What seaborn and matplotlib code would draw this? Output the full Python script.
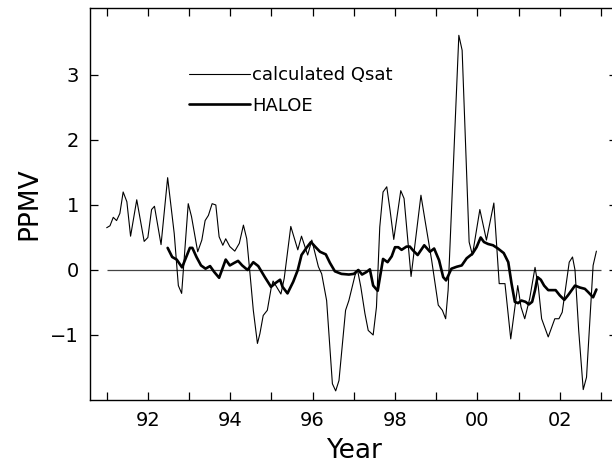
import matplotlib
matplotlib.use("Agg")
import matplotlib.pyplot as plt
import seaborn as sns
import pandas as pd

# ---- data ----
qsat_year = [1991.00, 1991.08, 1991.16, 1991.24, 1991.32, 1991.40, 1991.49, 1991.58, 1991.73, 1991.91,
             1992.00, 1992.09, 1992.16, 1992.32, 1992.48, 1992.64, 1992.74, 1992.82, 1992.98, 1993.06,
             1993.21, 1993.31, 1993.39, 1993.47, 1993.56, 1993.65, 1993.73, 1993.82, 1993.89, 1993.99,
             1994.11, 1994.22, 1994.32, 1994.40, 1994.48, 1994.56, 1994.66, 1994.72, 1994.80, 1994.90,
             1994.99, 1995.04, 1995.23, 1995.31, 1995.47, 1995.64, 1995.73, 1995.88, 1995.98, 1996.14,
             1996.22, 1996.34, 1996.48, 1996.56, 1996.64, 1996.80, 1996.88, 1997.03, 1997.09, 1997.17,
             1997.27, 1997.35, 1997.47, 1997.55, 1997.63, 1997.71, 1997.80, 1997.88, 1997.97, 1998.14,
             1998.22, 1998.39, 1998.63, 1998.73, 1998.89, 1999.05, 1999.15, 1999.23, 1999.29, 1999.55,
             1999.63, 1999.80, 1999.88, 2000.06, 2000.22, 2000.40, 2000.53, 2000.67, 2000.81, 2000.98,
             2001.06, 2001.15, 2001.27, 2001.40, 2001.48, 2001.56, 2001.72, 2001.88, 2001.98, 2002.06,
             2002.23, 2002.31, 2002.37, 2002.46, 2002.57, 2002.65, 2002.81, 2002.89]
qsat_ppmv = [0.65, 0.68, 0.81, 0.76, 0.87, 1.20, 1.05, 0.52, 1.08, 0.44,
             0.50, 0.93, 0.98, 0.39, 1.42, 0.56, -0.24, -0.36, 1.02, 0.82,
             0.28, 0.46, 0.76, 0.84, 1.02, 1.00, 0.51, 0.38, 0.48, 0.36,
             0.29, 0.41, 0.69, 0.48, -0.06, -0.62, -1.13, -0.98, -0.70, -0.62,
             -0.29, -0.17, -0.37, -0.13, 0.67, 0.31, 0.52, 0.23, 0.46, 0.05,
             -0.06, -0.47, -1.75, -1.86, -1.70, -0.62, -0.47, -0.08, 0.00, -0.26,
             -0.67, -0.93, -1.00, -0.57, 0.66, 1.20, 1.28, 0.92, 0.47, 1.22,
             1.10, -0.10, 1.15, 0.76, 0.15, -0.54, -0.62, -0.75, -0.31, 3.61,
             3.38, 0.43, 0.23, 0.93, 0.46, 1.03, -0.21, -0.21, -1.06, -0.24,
             -0.57, -0.75, -0.44, 0.04, -0.26, -0.75, -1.03, -0.75, -0.75, -0.65,
             0.12, 0.20, 0.00, -0.93, -1.84, -1.65, 0.07, 0.29]

haloe_year = [1992.48, 1992.59, 1992.70, 1992.83, 1993.02, 1993.08, 1993.18, 1993.29, 1993.40, 1993.51,
              1993.61, 1993.73, 1993.89, 1993.99, 1994.10, 1994.19, 1994.29, 1994.42, 1994.56, 1994.68,
              1994.84, 1994.99, 1995.10, 1995.21, 1995.27, 1995.39, 1995.53, 1995.64, 1995.73, 1995.85,
              1995.96, 1996.06, 1996.18, 1996.32, 1996.42, 1996.54, 1996.70, 1996.88, 1997.00, 1997.11,
              1997.20, 1997.31, 1997.39, 1997.47, 1997.58, 1997.71, 1997.82, 1997.92, 1998.00, 1998.08,
              1998.16, 1998.28, 1998.36, 1998.44, 1998.55, 1998.71, 1998.85, 1998.95, 1999.07, 1999.17,
              1999.24, 1999.37, 1999.50, 1999.62, 1999.74, 1999.88, 1999.98, 2000.08, 2000.16, 2000.26,
              2000.38, 2000.50, 2000.64, 2000.75, 2000.83, 2000.91, 2000.99, 2001.07, 2001.17, 2001.25,
              2001.33, 2001.40, 2001.46, 2001.54, 2001.62, 2001.72, 2001.90, 2002.00, 2002.11, 2002.20,
              2002.37, 2002.49, 2002.61, 2002.69, 2002.81, 2002.89]
haloe_ppmv = [0.34, 0.20, 0.16, 0.04, 0.34, 0.34, 0.20, 0.07, 0.02, 0.06,
              -0.03, -0.12, 0.16, 0.07, 0.11, 0.14, 0.07, 0.00, 0.12, 0.06,
              -0.11, -0.26, -0.20, -0.15, -0.26, -0.36, -0.18, 0.00, 0.23, 0.34,
              0.43, 0.36, 0.28, 0.24, 0.11, -0.02, -0.06, -0.07, -0.06, 0.00,
              -0.07, -0.03, 0.01, -0.24, -0.32, 0.17, 0.12, 0.21, 0.35, 0.35,
              0.31, 0.36, 0.36, 0.30, 0.23, 0.38, 0.28, 0.33, 0.15, -0.11,
              -0.16, 0.02, 0.05, 0.07, 0.18, 0.25, 0.35, 0.50, 0.43, 0.40,
              0.38, 0.33, 0.26, 0.12, -0.21, -0.49, -0.51, -0.47, -0.49, -0.53,
              -0.49, -0.31, -0.11, -0.15, -0.24, -0.31, -0.31, -0.39, -0.46, -0.39,
              -0.24, -0.27, -0.29, -0.34, -0.42, -0.30]

zero_span = [1991.0, 2003.0]
x_ticks = list(range(1991, 2004))
x_tick_labels = ["" if y % 2 else f"{y % 100:02d}" for y in x_ticks]
y_ticks = [-1, 0, 1, 2, 3]

qsat_df = pd.DataFrame({"Year": qsat_year, "PPMV": qsat_ppmv})
haloe_df = pd.DataFrame({"Year": haloe_year, "PPMV": haloe_ppmv})

sns.set_style("ticks")
plt.rcParams["font.family"] = ["DejaVu Sans"]
plt.rcParams["text.color"] = "black"
plt.rcParams["axes.labelcolor"] = "black"

fig = plt.figure(figsize=(6.12, 4.65), dpi=100)
# right spine sits just beyond the right edge of the picture, as in the reference
ax = fig.add_axes([90 / 612, 1 - 400 / 465, 527 / 612, 392 / 465])

ax.hlines(0, zero_span[0], zero_span[1], color="#444444", linewidth=0.9, zorder=1)
sns.lineplot(data=qsat_df, x="Year", y="PPMV", sort=False, estimator=None,
             color="black", linewidth=0.8, label="calculated Qsat", ax=ax)
sns.lineplot(data=haloe_df, x="Year", y="PPMV", sort=False, estimator=None,
             color="black", linewidth=1.9, label="HALOE", ax=ax)

ax.set_xlim(1990.595, 2003.39)
ax.set_ylim(-2.0, 4.03)
ax.set_xticks(x_ticks)
ax.set_xticklabels(x_tick_labels)
ax.set_yticks(y_ticks)
ax.set_yticklabels(["\u22121" if v == -1 else str(v) for v in y_ticks])
ax.tick_params(direction="in", length=6, width=0.9, top=True, right=True,
               labelsize=14, pad=8, colors="black")
for s in ax.spines.values():
    s.set_linewidth(1.0)
    s.set_color("black")

ax.set_xlabel("Year", fontsize=19, labelpad=6, color="black")
ax.set_ylabel("PPMV", fontsize=19, color="black")
ax.yaxis.set_label_coords(-0.090, 0.5)

leg = ax.legend(loc="upper left", bbox_to_anchor=(0.187, 0.852), frameon=False,
                fontsize=13, handlelength=3.4, handletextpad=0.12,
                borderaxespad=0, borderpad=0, labelspacing=0.7)
for t in leg.get_texts():
    t.set_color("black")

fig.savefig("out.png", dpi=100)
